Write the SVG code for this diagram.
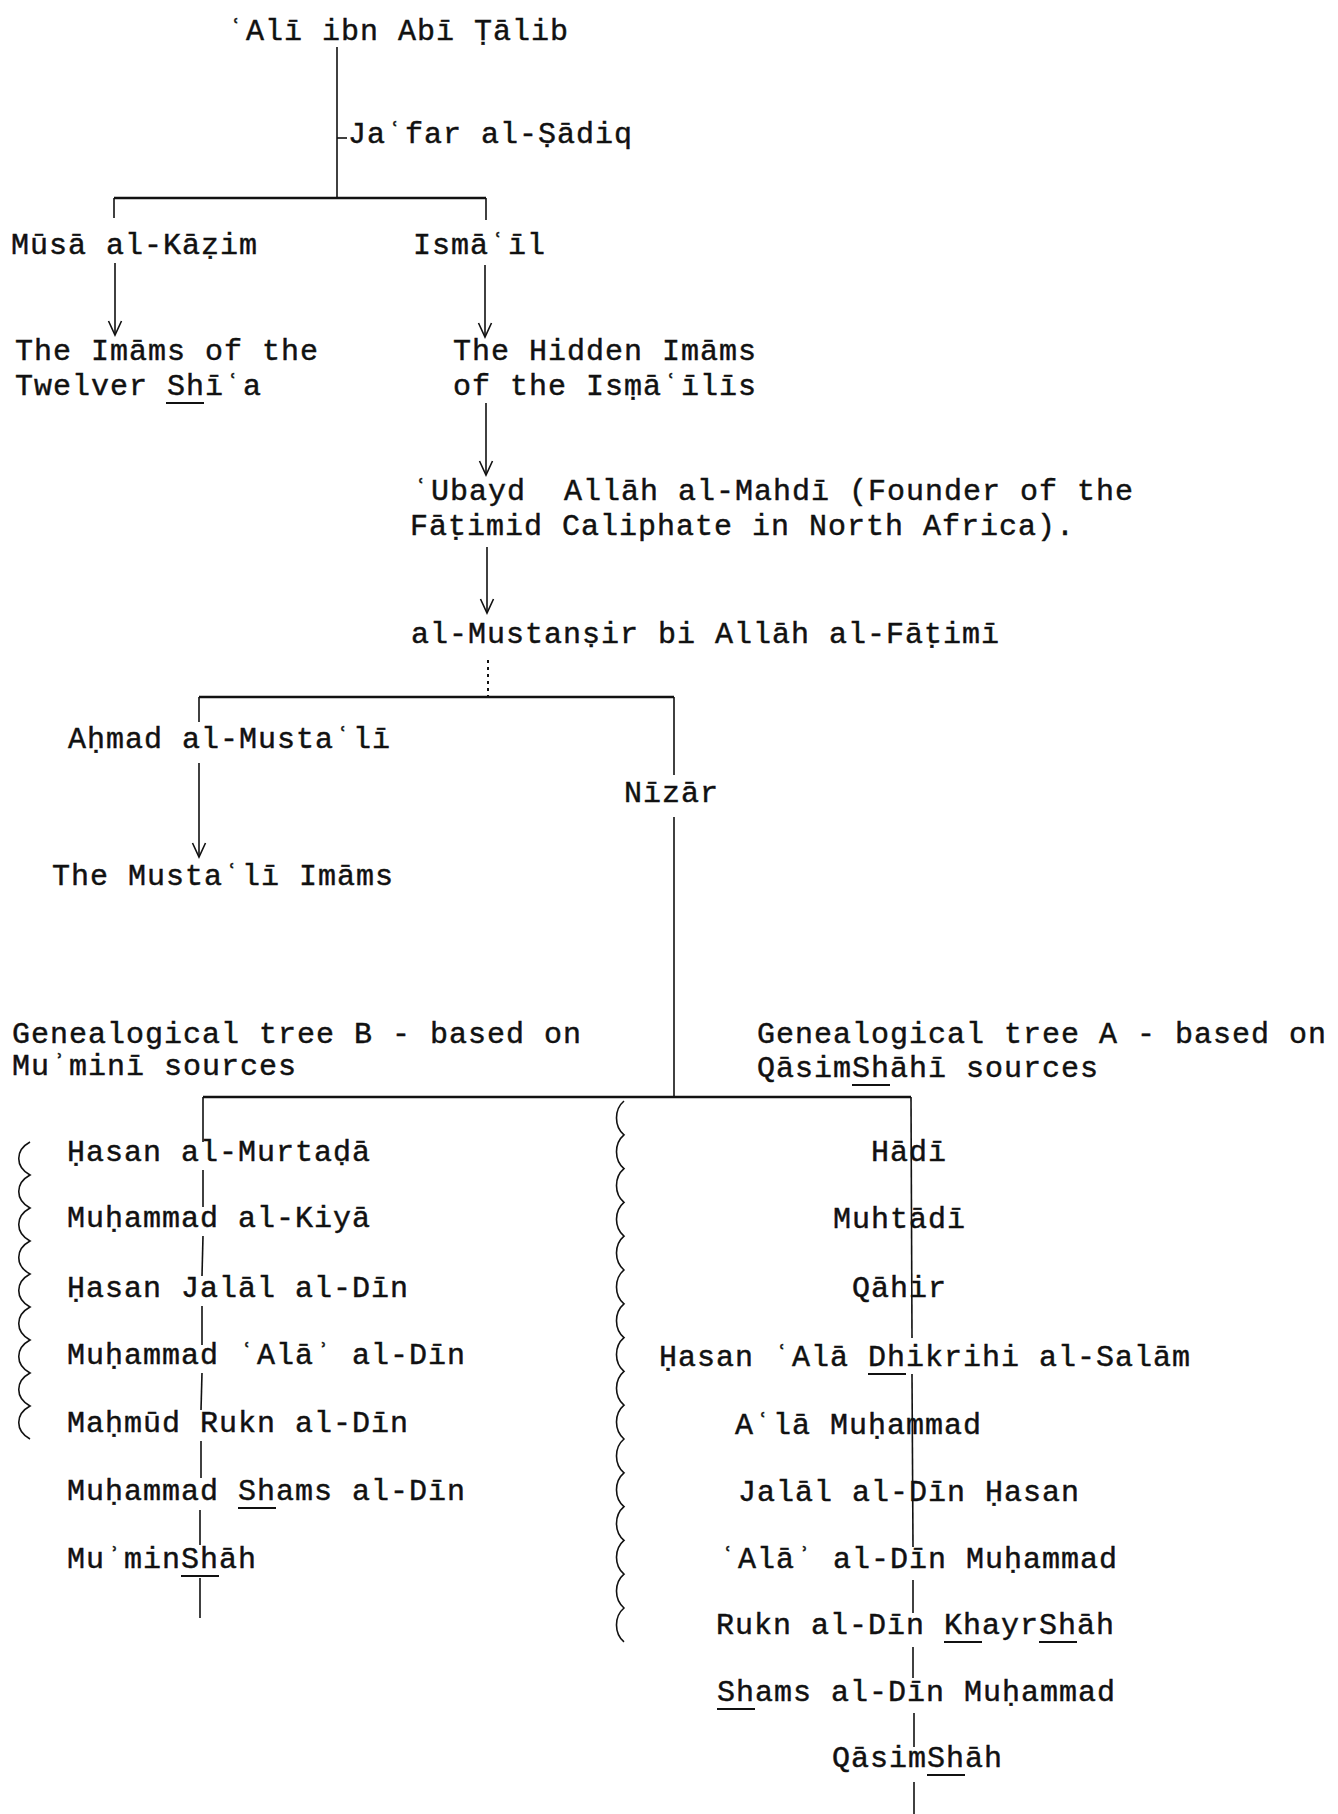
<svg xmlns="http://www.w3.org/2000/svg" width="1338" height="1814" viewBox="0 0 1338 1814">
<defs>
<style>
.t{font-family:"Liberation Mono","DejaVu Sans Mono",monospace;font-size:30px;letter-spacing:1px;fill:#111;stroke:#111;stroke-width:0.45px;}
.c{stroke:#111;stroke-width:1.6;fill:none;}
.h{stroke:#111;stroke-width:2.4;fill:none;}
.u{stroke:#111;stroke-width:1.8;fill:none;}
.d{stroke:#111;stroke-width:2;stroke-dasharray:3 4;fill:none;}
.w{stroke:#111;stroke-width:1.6;fill:none;}
</style>
<marker id="arr" markerUnits="userSpaceOnUse" viewBox="-16 -10 20 20" markerWidth="20" markerHeight="20" refX="0" refY="0" orient="auto">
<path d="M-14,-6.5 L0,0 L-14,6.5" fill="none" stroke="#111" stroke-width="1.6"/>
</marker>
</defs>
<rect width="1338" height="1814" fill="#fff"/>

<g id="connectors">
<line class="c" x1="337" y1="47" x2="337" y2="198"/>
<line class="c" x1="337" y1="138" x2="347" y2="138"/>
<line class="h" x1="114" y1="198" x2="486" y2="198"/>
<line class="c" x1="114" y1="198" x2="114" y2="218"/>
<line class="c" x1="486" y1="198" x2="486" y2="220"/>
<line class="c" x1="115" y1="263" x2="115" y2="335" marker-end="url(#arr)"/>
<line class="c" x1="485" y1="265" x2="485" y2="337" marker-end="url(#arr)"/>
<line class="c" x1="486" y1="403" x2="486" y2="475" marker-end="url(#arr)"/>
<line class="c" x1="487" y1="547" x2="487" y2="613" marker-end="url(#arr)"/>
<line class="d" x1="488" y1="660" x2="488" y2="697"/>
<line class="h" x1="199" y1="697" x2="674" y2="697"/>
<line class="c" x1="199" y1="697" x2="199" y2="722"/>
<line class="c" x1="674" y1="697" x2="674" y2="775"/>
<line class="c" x1="199" y1="763" x2="199" y2="857" marker-end="url(#arr)"/>
<line class="c" x1="674" y1="817" x2="674" y2="1097"/>
<line class="h" x1="203" y1="1097" x2="911" y2="1097"/>
<!-- tree B stem -->
<line class="c" x1="203" y1="1097" x2="203" y2="1142"/>
<line class="c" x1="203" y1="1170" x2="203" y2="1207"/>
<line class="c" x1="203" y1="1236" x2="202" y2="1276"/>
<line class="c" x1="202" y1="1306" x2="202" y2="1345"/>
<line class="c" x1="202" y1="1373" x2="201" y2="1410"/>
<line class="c" x1="201" y1="1441" x2="201" y2="1478"/>
<line class="c" x1="200" y1="1510" x2="200" y2="1545"/>
<line class="c" x1="200" y1="1578" x2="200" y2="1618"/>
<!-- tree A stem -->
<line class="c" x1="911" y1="1097" x2="912" y2="1338"/>
<line class="c" x1="912" y1="1374" x2="913" y2="1547"/>
<line class="c" x1="913" y1="1580" x2="913" y2="1613"/>
<line class="c" x1="913" y1="1647" x2="913" y2="1678"/>
<line class="c" x1="914" y1="1713" x2="914" y2="1747"/>
<line class="c" x1="914" y1="1782" x2="914" y2="1814"/>
<!-- wavy braces -->
<path class="w" d="M30,1142 c-15,8.25 -15,24.75 0,33 c-15,8.25 -15,24.75 0,33 c-15,8.25 -15,24.75 0,33 c-15,8.25 -15,24.75 0,33 c-15,8.25 -15,24.75 0,33 c-15,8.25 -15,24.75 0,33 c-15,8.25 -15,24.75 0,33 c-15,8.25 -15,24.75 0,33 c-15,8.25 -15,24.75 0,33"/>
<path class="w" d="M624,1101 c-10,8.45 -10,25.35 0,33.8 c-10,8.45 -10,25.35 0,33.8 c-10,8.45 -10,25.35 0,33.8 c-10,8.45 -10,25.35 0,33.8 c-10,8.45 -10,25.35 0,33.8 c-10,8.45 -10,25.35 0,33.8 c-10,8.45 -10,25.35 0,33.8 c-10,8.45 -10,25.35 0,33.8 c-10,8.45 -10,25.35 0,33.8 c-10,8.45 -10,25.35 0,33.8 c-10,8.45 -10,25.35 0,33.8 c-10,8.45 -10,25.35 0,33.8 c-10,8.45 -10,25.35 0,33.8 c-10,8.45 -10,25.35 0,33.8 c-10,8.45 -10,25.35 0,33.8 c-10,8.45 -10,25.35 0,33.8"/>
</g>

<g id="ali"><text class="t" x="227" y="40">ʿAlī ibn Abī Ṭālib</text></g>
<g id="jafar"><text class="t" x="348" y="143">Jaʿfar al-Ṣādiq</text></g>
<g id="musa"><text class="t" x="11" y="254">Mūsā al-Kāẓim</text></g>
<g id="ismail"><text class="t" x="413" y="254">Ismāʿīl</text></g>
<g id="twelver">
<text class="t" x="15" y="360">The Imāms of the</text>
<text class="t" x="15" y="395">Twelver Shīʿa</text>
<line class="u" x1="166" y1="403" x2="204" y2="403"/>
</g>
<g id="hidden">
<text class="t" x="453" y="360">The Hidden Imāms</text>
<text class="t" x="453" y="395">of the Isṃāʿīlīs</text>
</g>
<g id="ubayd">
<text class="t" x="412" y="500" xml:space="preserve">ʿUbayd  Allāh al-Mahdī (Founder of the</text>
<text class="t" x="410" y="535">Fāṭimid Caliphate in North Africa).</text>
</g>
<g id="mustansir"><text class="t" x="411" y="643">al-Mustanṣir bi Allāh al-Fāṭimī</text></g>
<g id="ahmad"><text class="t" x="68" y="748">Aḥmad al-Mustaʿlī</text></g>
<g id="mustali"><text class="t" x="52" y="885">The Mustaʿlī Imāms</text></g>
<g id="nizar"><text class="t" x="624" y="802">Nīzār</text></g>
<g id="treeB-title">
<text class="t" x="12" y="1043">Genealogical tree B - based on</text>
<text class="t" x="12" y="1075">Muʾminī sources</text>
</g>
<g id="treeA-title">
<text class="t" x="757" y="1043">Genealogical tree A - based on</text>
<text class="t" x="757" y="1077">QāsimShāhī sources</text>
<line class="u" x1="852" y1="1085" x2="890" y2="1085"/>
</g>

<g id="b1"><text class="t" x="67" y="1161">Ḥasan al-Murtaḍā</text></g>
<g id="b2"><text class="t" x="67" y="1227">Muḥammad al-Kiyā</text></g>
<g id="b3"><text class="t" x="67" y="1297">Ḥasan Jalāl al-Dīn</text></g>
<g id="b4"><text class="t" x="67" y="1364">Muḥammad ʿAlāʾ al-Dīn</text></g>
<g id="b5"><text class="t" x="67" y="1432">Maḥmūd Rukn al-Dīn</text></g>
<g id="b6"><text class="t" x="67" y="1500">Muḥammad Shams al-Dīn</text>
<line class="u" x1="238" y1="1508" x2="276" y2="1508"/></g>
<g id="b7"><text class="t" x="67" y="1568">MuʾminShāh</text>
<line class="u" x1="181" y1="1576" x2="219" y2="1576"/></g>

<g id="a1"><text class="t" x="871" y="1161">Hādī</text></g>
<g id="a2"><text class="t" x="833" y="1228">Muhtādī</text></g>
<g id="a3"><text class="t" x="852" y="1297">Qāhir</text></g>
<g id="a4"><text class="t" x="659" y="1366">Ḥasan ʿAlā Dhikrihi al-Salām</text>
<line class="u" x1="868" y1="1374" x2="906" y2="1374"/></g>
<g id="a5"><text class="t" x="735" y="1434">Aʿlā Muḥammad</text></g>
<g id="a6"><text class="t" x="738" y="1501">Jalāl al-Dīn Ḥasan</text></g>
<g id="a7"><text class="t" x="719" y="1568">ʿAlāʾ al-Dīn Muḥammad</text></g>
<g id="a8"><text class="t" x="716" y="1634">Rukn al-Dīn KhayrShāh</text>
<line class="u" x1="944" y1="1642" x2="982" y2="1642"/>
<line class="u" x1="1039" y1="1642" x2="1077" y2="1642"/></g>
<g id="a9"><text class="t" x="717" y="1701">Shams al-Dīn Muḥammad</text>
<line class="u" x1="717" y1="1709" x2="755" y2="1709"/></g>
<g id="a10"><text class="t" x="832" y="1767">QāsimShāh</text>
<line class="u" x1="927" y1="1775" x2="965" y2="1775"/></g>
</svg>
